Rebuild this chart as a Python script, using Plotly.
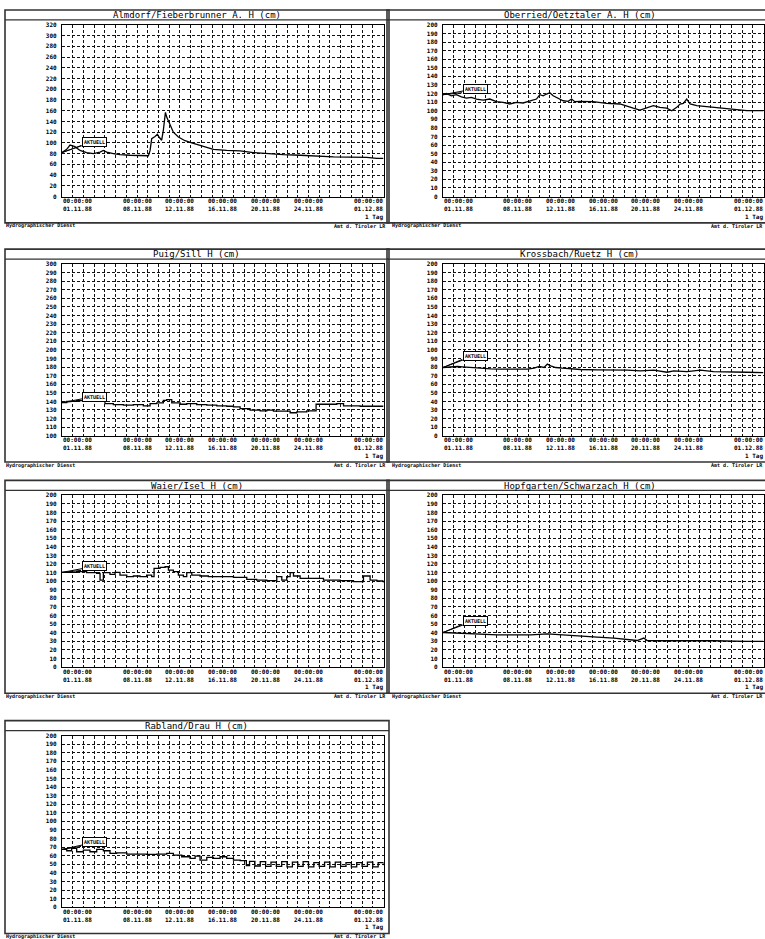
import plotly.graph_objects as go

FIG_W, FIG_H = 765, 939

# ------------------------------------------------------------------ data
TITLES = [
    "Almdorf/Fieberbrunner A. H (cm)",
    "Oberried/Oetztaler A. H (cm)",
    "Puig/Sill H (cm)",
    "Krossbach/Ruetz H (cm)",
    "Waier/Isel H (cm)",
    "Hopfgarten/Schwarzach H (cm)",
    "Rabland/Drau H (cm)",
]

Y_MIN = [0, 0, 100, 0, 0, 0, 0]
Y_MAX = [320, 200, 300, 200, 200, 200, 200]
Y_STEP = [20, 10, 10, 10, 10, 10, 10]

X_TICK_DAYS = [0, 7, 11, 15, 19, 23, 30]
X_TICK_TIMES = ["00:00:00", "00:00:00", "00:00:00", "00:00:00", "00:00:00", "00:00:00", "00:00:00"]
X_TICK_DATES = ["01.11.88", "08.11.88", "12.11.88", "16.11.88", "20.11.88", "24.11.88", "01.12.88"]
X_GRID_LABEL = "1 Tag"
CALLOUT_TEXT = "AKTUELL"
FOOTER_LEFT = "Hydrographischer Dienst"
FOOTER_RIGHT = "Amt d. Tiroler LR"

P1_DAYS = [0, 0.44, 0.75, 1.21, 1.68, 2.30, 2.93, 3.55, 3.86, 4.17, 4.79, 5.41, 6.35, 7.28, 8.06,
           8.22, 8.37, 8.68, 8.90, 9.09, 9.30, 9.46, 9.65, 9.77, 10.08, 10.39, 10.86, 11.48, 12.26,
           13.04, 13.51, 14.13, 15.37, 16.62, 17.86, 19.11, 20.66, 22.22, 23.78, 25.33, 26.89,
           28.44, 29.38, 30]
P1_H = [82, 88, 96, 93, 86, 82, 80, 83, 86, 83, 80, 78, 77, 76, 76,
        86, 108, 112, 116, 110, 105, 124, 157, 148, 133, 120, 111, 104, 99,
        94, 91, 88, 86, 85, 82, 80, 78, 77, 75, 74, 73.5,
        73, 71, 71]

P2_DAYS = [0, 0.31, 0.78, 1.25, 1.72, 2.19, 2.66, 3.13, 3.75, 4.38, 5.0, 5.63, 6.25, 6.88, 7.5,
           8.13, 8.75, 9.06, 9.38, 9.69, 10.0, 10.31, 10.78, 11.25, 11.72, 12.03, 12.34, 12.81,
           14.06, 15.31, 16.56, 17.19, 17.81, 18.44, 19.06, 19.69, 20.31, 20.94, 21.41, 21.88,
           22.19, 22.5, 22.81, 23.13, 23.75, 25.31, 26.88, 28.44, 30]
P2_H = [118.6, 120, 117.4, 118.6, 116, 114.7, 115.5, 113.6, 112.4, 113.6, 110.5, 109.7, 107.8, 109.7, 109,
        110.9, 113.6, 118.6, 117.4, 119.4, 121, 117.4, 114.3, 111.6, 110.9, 113.6, 110.5, 110.9,
        110.5, 108.5, 107.8, 105.8, 103, 100.8, 103, 105.8, 103.9, 103, 100, 103.9,
        107.8, 108.5, 113.6, 107.8, 105.8, 103.9, 101.9, 100, 100]

P3_DAYS = [0, 0.44, 1.37, 2.30, 3.24, 4.01, 4.79, 5.73, 6.66, 7.59, 8.22, 8.84, 9.46, 9.77, 10.24,
           11.02, 11.64, 12.57, 13.51, 14.44, 15.37, 16.0, 16.62, 17.55, 18.49, 19.11, 19.73,
           20.66, 21.29, 21.91, 22.84, 23.62, 23.71, 24.71, 25.64, 26.27, 27.82, 30]
P3_H = [138.6, 140, 141, 142, 141, 137.5, 136.3, 135.6, 136.3, 134.8, 137.5, 138.2, 141.3, 142, 138.2,
        136.7, 137.5, 136.3, 135.6, 134.8, 134.4, 133.7, 131.7, 129.8, 129, 129.8, 128.7,
        128.7, 126.8, 127.9, 129, 129, 136.7, 136.7, 137.5, 134.8, 134.4, 134.4]

P4_DAYS = [0, 0.44, 0.90, 1.37, 1.84, 2.15, 2.46, 2.93, 3.55, 4.48, 5.41, 6.66, 7.90, 8.53, 9.0,
           9.46, 9.77, 10.08, 10.55, 11.17, 11.79, 12.88, 14.44, 16.0, 17.24, 18.49, 19.73,
           20.97, 21.60, 22.84, 24.09, 25.33, 26.89, 28.44, 30]
P4_H = [79.5, 80, 80.5, 80.7, 80.3, 80, 79.2, 78.7, 78.3, 78, 77.6, 77.6, 77.6, 78.7, 80.7,
        79.5, 83.5, 81.5, 79.5, 78.7, 78, 77.2, 76.8, 76.8, 76.4, 75.6, 76.4,
        74, 75.6, 74.8, 76.4, 74.8, 74, 74, 73.6]

P5_DAYS = [0, 0.44, 1.37, 2.30, 3.24, 3.55, 3.86, 4.48, 4.95, 5.41, 6.04, 6.66, 7.28, 7.90, 8.37,
           8.59, 9.15, 9.62, 9.93, 10.39, 10.86, 11.33, 11.64, 12.11, 12.88, 13.66, 14.44, 16.0,
           17.24, 18.17, 19.11, 20.04, 20.51, 20.97, 21.29, 21.60, 22.22, 23.15, 24.40, 25.95,
           27.20, 28.13, 28.75, 29.38, 30]
P5_H = [110.2, 110.2, 111, 109.9, 109.1, 101.3, 109.9, 107.9, 110.2, 107.1, 105.2, 106, 105.2, 107.1, 105.2,
        114.9, 116, 116.8, 112.9, 111, 107.1, 105.2, 109.9, 107.1, 106, 105.2, 105.2, 104.4,
        102.1, 101.3, 100.6, 105.2, 101.3, 105.2, 109.9, 106, 103.3, 103.3, 101.3, 100.6,
        99.4, 106, 101.3, 100.2, 98.2]

P6_DAYS = [0, 0.44, 0.90, 1.99, 3.55, 5.10, 6.66, 8.22, 9.77, 11.02, 11.95, 12.88, 14.44, 16.0,
           17.24, 18.17, 18.80, 19.11, 20.66, 22.22, 23.78, 25.33, 26.89, 28.44, 30]
P6_H = [40.2, 40, 39.5, 38.7, 38.3, 37.5, 37.5, 37.5, 38.7, 37.5, 36.4, 35.6, 34.8, 33.7,
        31.7, 30.9, 33.7, 30.9, 30.6, 30.9, 30.6, 30.6, 29.8, 29.8, 29.8]

P7_DAYS = [0, 0.44, 0.90, 1.37, 1.99, 2.61, 3.24, 3.86, 4.48, 5.10, 6.04, 6.97, 7.90, 8.84, 9.77,
           10.39, 11.17, 11.95, 12.42, 12.88, 13.51, 14.13, 14.75, 15.37, 16.0, 16.62,
           17.2, 17.5, 18.0, 18.5, 19.0, 19.5, 20.0, 20.5, 21.0, 21.5, 22.0, 22.5, 23.0, 23.5,
           24.0, 24.5, 25.0, 25.5, 26.0, 26.5, 27.0, 27.5, 28.0, 28.5, 29.0, 29.5, 30]
P7_H = [67.3, 65.8, 68.5, 64.6, 66.5, 64.6, 67.3, 65.8, 62.7, 63.4, 61.9, 61.9, 61.5, 61.9, 62.7,
        60.7, 58.8, 56.9, 59.6, 54.9, 58, 56.9, 58.8, 56.9, 54.9, 54.2,
        48.5, 53.5, 48, 53, 47.5, 52.5, 47.5, 53, 47, 52.5, 47.5, 53, 47, 52,
        47.5, 52.5, 47, 52.5, 47.5, 52, 47, 52, 47.5, 52.5, 47, 52, 49]

SERIES = [(P1_DAYS, P1_H), (P2_DAYS, P2_H), (P3_DAYS, P3_H), (P4_DAYS, P4_H),
          (P5_DAYS, P5_H), (P6_DAYS, P6_H), (P7_DAYS, P7_H)]

# ------------------------------------------------------------------ layout config
ROW_TOP = [6, 247, 480, 722]
COL_BOX = [(5, 389), (387, 772)]
COL_PLOT = [(62, 383.5), (443, 763.5)]
COL_FOOT = [(5, 387), (391, 764)]
PANEL_POS = [(0, 0), (0, 1), (1, 0), (1, 1), (2, 0), (2, 1), (3, 0)]
CALLOUT_AY = [-11, -6, -6, -12, -6, -12, -7]
LINE_SHAPE = ["linear", "linear", "hv", "linear", "hv", "linear", "hv"]

MONO = "DejaVu Sans Mono"


def fx(px):
    return px / FIG_W


def fy(py):
    return 1 - py / FIG_H


fig = go.Figure()
layout = {}
annotations = []
shapes = []

for i, (days, vals) in enumerate(SERIES):
    k = i + 1
    xa = "x" if k == 1 else f"x{k}"
    ya = "y" if k == 1 else f"y{k}"
    xkey = "xaxis" if k == 1 else f"xaxis{k}"
    ykey = "yaxis" if k == 1 else f"yaxis{k}"
    row, col = PANEL_POS[i]
    B = ROW_TOP[row]
    bl, br = COL_BOX[col]
    pl, pr = COL_PLOT[col]
    fl, fr = COL_FOOT[col]

    fig.add_trace(go.Scatter(
        x=days, y=vals, mode="lines",
        line=dict(color="black", width=1.3, shape=LINE_SHAPE[i]),
        xaxis=xa, yaxis=ya, showlegend=False, hoverinfo="skip"))

    grid = dict(showgrid=True, gridcolor="#111", gridwidth=1, griddash="3px,2px",
                showline=True, linecolor="black", linewidth=1.2, mirror=True,
                zeroline=False, fixedrange=True)
    layout[xkey] = dict(domain=[fx(pl), fx(pr)], range=[0, 30], dtick=1, tick0=0,
                        showticklabels=False, ticks="", anchor=ya, **grid)
    layout[ykey] = dict(domain=[fy(B + 188), fy(B + 15)],
                        range=[Y_MIN[i], Y_MAX[i]], dtick=Y_STEP[i], tick0=Y_MIN[i],
                        ticks="", anchor=xa, ticklabelstandoff=3,
                        tickfont=dict(family=MONO, size=6, color="black", weight="bold"),
                        **grid)

    # panel frame and title strip
    shapes.append(dict(type="rect", xref="paper", yref="paper",
                       x0=fx(bl), x1=fx(br), y0=fy(B + 214.5), y1=fy(B),
                       line=dict(color="#333", width=1.6), layer="below"))
    shapes.append(dict(type="line", xref="paper", yref="paper",
                       x0=fx(bl), x1=fx(br), y0=fy(B + 10), y1=fy(B + 10),
                       line=dict(color="#333", width=1.2)))
    annotations.append(dict(text=TITLES[i], xref="paper", yref="paper",
                            x=fx((bl + br) / 2), y=fy(B + 5.3),
                            xanchor="center", yanchor="middle", showarrow=False,
                            font=dict(family=MONO, size=9, color="black")))

    # x tick labels (time over date)
    for j, d in enumerate(X_TICK_DAYS):
        anchor = "left" if j == 0 else ("right" if j == len(X_TICK_DAYS) - 1 else "center")
        annotations.append(dict(text=f"{X_TICK_TIMES[j]}<br>{X_TICK_DATES[j]}",
                                xref=xa, yref="paper", x=d, y=fy(B + 196.3),
                                xanchor=anchor, yanchor="middle", showarrow=False,
                                borderpad=0, align=anchor,
                                font=dict(family=MONO, size=6, color="black", weight="bold")))
    annotations.append(dict(text=X_GRID_LABEL, xref=xa, yref="paper", x=30, y=fy(B + 208.3),
                            xanchor="right", yanchor="middle", showarrow=False, borderpad=0,
                            font=dict(family=MONO, size=6, color="black", weight="bold")))

    # callout box at the first value
    annotations.append(dict(text=CALLOUT_TEXT, xref=xa, yref=ya, x=days[0], y=vals[0],
                            showarrow=True, arrowhead=0, arrowwidth=1, arrowcolor="black",
                            ax=32, ay=CALLOUT_AY[i], bordercolor="black", borderwidth=1,
                            borderpad=1, bgcolor="white",
                            font=dict(family=MONO, size=5, color="black", weight="bold")))
    shapes.append(dict(type="line", xref=xa, yref=ya, xsizemode="pixel", ysizemode="pixel",
                       xanchor=days[0], yanchor=vals[0], x0=0, y0=0, x1=19,
                       y1=-(CALLOUT_AY[i] + 4), line=dict(color="black", width=1)))

    # footers
    annotations.append(dict(text=FOOTER_LEFT, xref="paper", yref="paper", x=fx(fl), y=fy(B + 217.5),
                            xanchor="left", yanchor="middle", showarrow=False, borderpad=0,
                            font=dict(family=MONO, size=5, color="black", weight="bold")))
    annotations.append(dict(text=FOOTER_RIGHT, xref="paper", yref="paper", x=fx(fr), y=fy(B + 217.5),
                            xanchor="right", yanchor="middle", showarrow=False, borderpad=0,
                            font=dict(family=MONO, size=5, color="black", weight="bold")))

fig.update_layout(**layout)
fig.update_layout(width=FIG_W, height=FIG_H, margin=dict(l=0, r=0, t=0, b=0),
                  paper_bgcolor="white", plot_bgcolor="white", showlegend=False,
                  annotations=annotations, shapes=shapes)

fig.write_html("out.html")
